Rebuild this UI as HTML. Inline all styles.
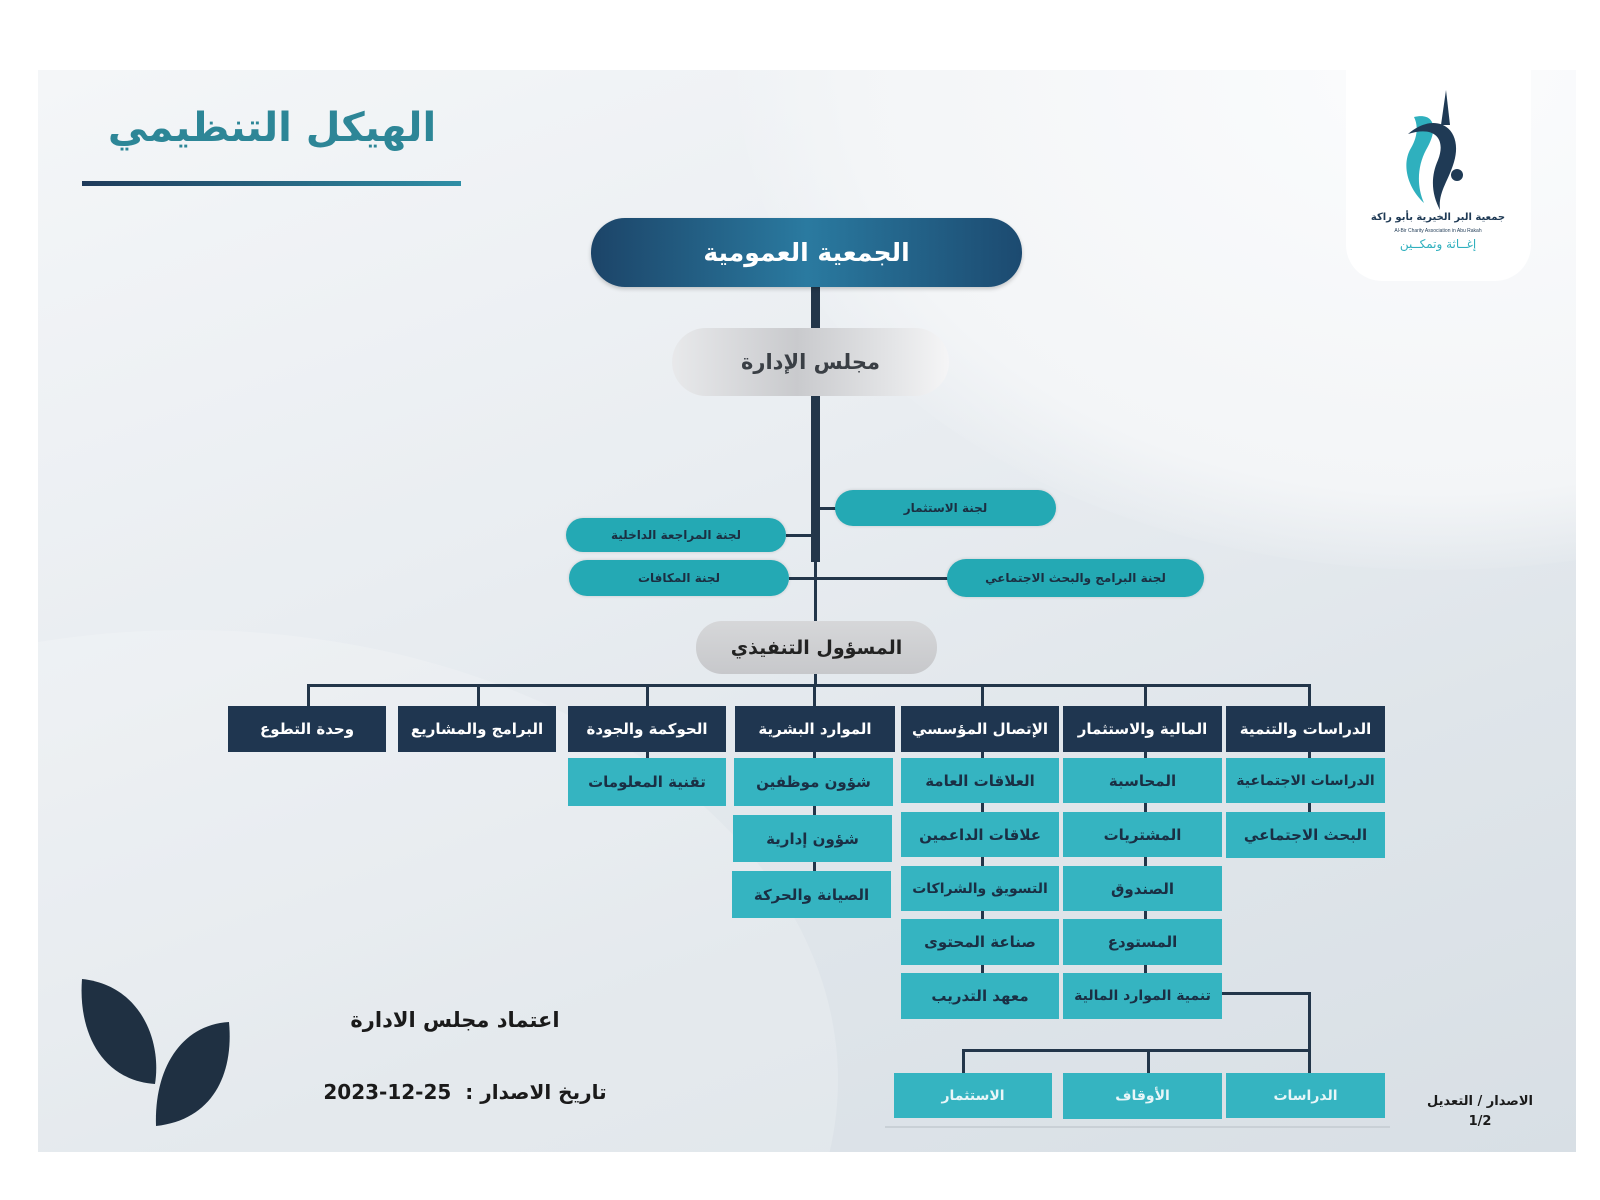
<!DOCTYPE html>
<html><head><meta charset="utf-8">
<style>
html,body{margin:0;padding:0;width:1600px;height:1200px;background:#fff;overflow:hidden;position:relative}
*{box-sizing:border-box}
.ar{font-family:"DejaVu Sans",sans-serif;font-weight:bold;direction:rtl;white-space:nowrap}
#panel{position:absolute;left:38px;top:70px;width:1538px;height:1082px;overflow:hidden;
background:linear-gradient(160deg,#f4f6f8 0%,#e9edf1 40%,#dfe5ea 70%,#d8dfe5 100%)}
.sw1{position:absolute;left:700px;top:-500px;width:1400px;height:1000px;border-radius:50%;background:radial-gradient(ellipse at center,#fbfcfd 0%,#f3f5f7 60%,rgba(240,243,246,0) 72%)}
.sw2{position:absolute;left:-500px;top:560px;width:1300px;height:900px;border-radius:50%;background:rgba(255,255,255,0.18)}
.abs{position:absolute}
.pillt{display:flex;align-items:center;justify-content:center;text-align:center;overflow:hidden}
.tealp{background:#24a9b4;color:#1b2f42;border-radius:20px;font-size:12px;box-shadow:0 0 3px rgba(0,0,0,.15)}
.hd{background:#1f3650;color:#fff;font-size:15px}
.sb{background:#35b4c1;color:#1a2f44;font-size:15px}
.ln{position:absolute;background:#23364a}
</style></head><body>
<div id="panel">
<div class="sw1"></div><div class="sw2"></div>
</div>

<div class="abs ar" style="left:82px;top:105px;width:380px;text-align:center;font-size:40px;color:#2d8697">الهيكل التنظيمي</div>
<div class="abs" style="left:82px;top:181px;width:379px;height:5px;background:linear-gradient(90deg,#1f3a5a,#2f8fa6)"></div>

<div class="abs" style="left:1346px;top:70px;width:185px;height:211px;background:#fff;border-radius:0 0 36px 36px"></div>
<svg class="abs" style="left:1346px;top:70px" width="185" height="211">
<path d="M68 47 C90 42 92 60 80 80 C72 95 70 115 78 133 C62 118 55 95 65 78 C72 66 72 55 68 47 Z" fill="#2fb0be"/>
<path d="M62 64 C90 40 118 58 108 92 C102 112 92 122 94 140 C86 125 84 108 92 90 C100 70 90 55 62 64 Z" fill="#1f3a55"/>
<circle cx="111" cy="105" r="6" fill="#1f3a55"/>
<path d="M95 55 L100 20 L104 55 Z" fill="#1f3a55"/>
<text x="92" y="150" text-anchor="middle" font-family="DejaVu Sans" font-size="10" font-weight="bold" fill="#1f3a55" direction="rtl">جمعية البر الخيرية بأبو راكة</text>
<text x="92" y="162" text-anchor="middle" font-family="Liberation Sans" font-size="5" fill="#1f3a55">Al-Bir Charity Association in Abu Rakah</text>
<text x="92" y="178" text-anchor="middle" font-family="DejaVu Sans" font-size="12" fill="#2fb0be" direction="rtl">إغــاثة وتمكــين</text>
</svg>

<div class="ln" style="left:811px;top:287px;width:9px;height:275px"></div>
<div class="ln" style="left:814px;top:560px;width:3px;height:62px"></div>
<div class="ln" style="left:817px;top:507px;width:20px;height:3px"></div>
<div class="ln" style="left:786px;top:534px;width:26px;height:3px"></div>
<div class="ln" style="left:789px;top:577px;width:160px;height:3px"></div>
<div class="ln" style="left:814px;top:673px;width:3px;height:12px"></div>
<div class="ln" style="left:307px;top:684px;width:1004px;height:3px"></div>

<div class="abs ar pillt" style="left:591px;top:218px;width:431px;height:69px;border-radius:34px;background:linear-gradient(90deg,#1c4468,#2a7aa0 50%,#1c4a70);color:#fff;font-size:25px;box-shadow:0 2px 4px rgba(0,0,0,.2)">الجمعية العمومية</div>
<div class="abs ar pillt" style="left:672px;top:328px;width:277px;height:68px;border-radius:34px;background:linear-gradient(90deg,#e8e9eb,#c9cacd 45%,#e4e5e7 80%,#f5f5f6);color:#3a3f45;font-size:21px">مجلس الإدارة</div>
<div class="abs ar pillt tealp" style="left:835px;top:490px;width:221px;height:36px">لجنة الاستثمار</div>
<div class="abs ar pillt tealp" style="left:566px;top:518px;width:220px;height:34px">لجنة المراجعة الداخلية</div>
<div class="abs ar pillt tealp" style="left:569px;top:560px;width:220px;height:36px">لجنة المكافات</div>
<div class="abs ar pillt tealp" style="left:947px;top:559px;width:257px;height:38px">لجنة البرامج والبحث الاجتماعي</div>
<div class="abs ar pillt" style="left:696px;top:621px;width:241px;height:53px;border-radius:26px;background:linear-gradient(180deg,#d6d7d9,#c7c8cb);color:#222;font-size:19px">المسؤول التنفيذي</div>

<div class="ln" style="left:307px;top:684px;width:3px;height:24px"></div>
<div class="ln" style="left:477px;top:684px;width:3px;height:24px"></div>
<div class="ln" style="left:646px;top:684px;width:3px;height:24px"></div>
<div class="ln" style="left:813px;top:684px;width:3px;height:24px"></div>
<div class="ln" style="left:981px;top:684px;width:3px;height:24px"></div>
<div class="ln" style="left:1144px;top:684px;width:3px;height:24px"></div>
<div class="ln" style="left:1308px;top:684px;width:3px;height:24px"></div>

<div class="ln" style="left:646px;top:750px;width:3px;height:10px"></div>
<div class="ln" style="left:813px;top:750px;width:3px;height:125px"></div>
<div class="ln" style="left:981px;top:750px;width:3px;height:225px"></div>
<div class="ln" style="left:1144px;top:750px;width:3px;height:225px"></div>
<div class="ln" style="left:1308px;top:750px;width:3px;height:65px"></div>
<div class="ln" style="left:1222px;top:992px;width:89px;height:3px"></div>
<div class="ln" style="left:1308px;top:992px;width:3px;height:82px"></div>
<div class="ln" style="left:962px;top:1049px;width:349px;height:3px"></div>
<div class="ln" style="left:962px;top:1049px;width:3px;height:25px"></div>
<div class="ln" style="left:1147px;top:1049px;width:3px;height:25px"></div>

<div class="abs ar pillt hd" style="left:228px;top:706px;width:158px;height:46px">وحدة التطوع</div>
<div class="abs ar pillt hd" style="left:398px;top:706px;width:158px;height:46px">البرامج والمشاريع</div>
<div class="abs ar pillt hd" style="left:568px;top:706px;width:158px;height:46px">الحوكمة والجودة</div>
<div class="abs ar pillt hd" style="left:735px;top:706px;width:160px;height:46px">الموارد البشرية</div>
<div class="abs ar pillt hd" style="left:901px;top:706px;width:158px;height:46px">الإتصال المؤسسي</div>
<div class="abs ar pillt hd" style="left:1063px;top:706px;width:159px;height:46px">المالية والاستثمار</div>
<div class="abs ar pillt hd" style="left:1226px;top:706px;width:159px;height:46px">الدراسات والتنمية</div>

<div class="abs ar pillt sb" style="left:568px;top:758px;width:158px;height:48px">تقنية المعلومات</div>
<div class="abs ar pillt sb" style="left:734px;top:758px;width:159px;height:48px">شؤون موظفين</div>
<div class="abs ar pillt sb" style="left:733px;top:815px;width:159px;height:47px">شؤون إدارية</div>
<div class="abs ar pillt sb" style="left:732px;top:871px;width:159px;height:47px">الصيانة والحركة</div>

<div class="abs ar pillt sb" style="left:901px;top:758px;width:158px;height:45px">العلاقات العامة</div>
<div class="abs ar pillt sb" style="left:901px;top:812px;width:158px;height:45px">علاقات الداعمين</div>
<div class="abs ar pillt sb" style="left:901px;top:866px;width:158px;height:45px;font-size:14px">التسويق والشراكات</div>
<div class="abs ar pillt sb" style="left:901px;top:919px;width:158px;height:46px">صناعة المحتوى</div>
<div class="abs ar pillt sb" style="left:901px;top:973px;width:158px;height:46px">معهد التدريب</div>

<div class="abs ar pillt sb" style="left:1063px;top:758px;width:159px;height:45px">المحاسبة</div>
<div class="abs ar pillt sb" style="left:1063px;top:812px;width:159px;height:45px">المشتريات</div>
<div class="abs ar pillt sb" style="left:1063px;top:866px;width:159px;height:45px">الصندوق</div>
<div class="abs ar pillt sb" style="left:1063px;top:919px;width:159px;height:46px">المستودع</div>
<div class="abs ar pillt sb" style="left:1063px;top:973px;width:159px;height:46px;font-size:14px">تنمية الموارد المالية</div>

<div class="abs ar pillt sb" style="left:1226px;top:758px;width:159px;height:45px;font-size:14px">الدراسات الاجتماعية</div>
<div class="abs ar pillt sb" style="left:1226px;top:812px;width:159px;height:46px">البحث الاجتماعي</div>

<div class="abs ar pillt sb" style="left:894px;top:1073px;width:158px;height:45px;color:#e8f6f8;font-size:14px">الاستثمار</div>
<div class="abs ar pillt sb" style="left:1063px;top:1073px;width:159px;height:46px;color:#e8f6f8;font-size:14px">الأوقاف</div>
<div class="abs ar pillt sb" style="left:1226px;top:1073px;width:159px;height:45px;color:#e8f6f8;font-size:14px">الدراسات</div>
<div class="abs" style="left:885px;top:1126px;width:505px;height:2px;background:#c9d0d6"></div>

<svg class="abs" style="left:60px;top:960px" width="200" height="190">
<path d="M22 19 C80 25 102 80 95 124 C40 120 18 70 22 19 Z" fill="#1f3042"/>
<path d="M169 62 C120 65 94 110 96 166 C152 160 174 115 169 62 Z" fill="#1f3042"/>
</svg>

<div class="abs ar" style="left:300px;top:1008px;width:310px;text-align:center;font-size:21px;color:#1a1a1a">اعتماد مجلس الادارة</div>
<div class="abs ar" style="left:310px;top:1080px;width:310px;text-align:center;font-size:20px;color:#1a1a1a">تاريخ الاصدار :&nbsp; <span dir="ltr" style="unicode-bidi:isolate">2023-12-25</span></div>
<div class="abs ar" style="left:1415px;top:1092px;width:130px;text-align:center;font-size:13px;color:#1a1a1a;line-height:20px;white-space:normal">الاصدار / التعديل<br>1/2</div>
</body></html>
